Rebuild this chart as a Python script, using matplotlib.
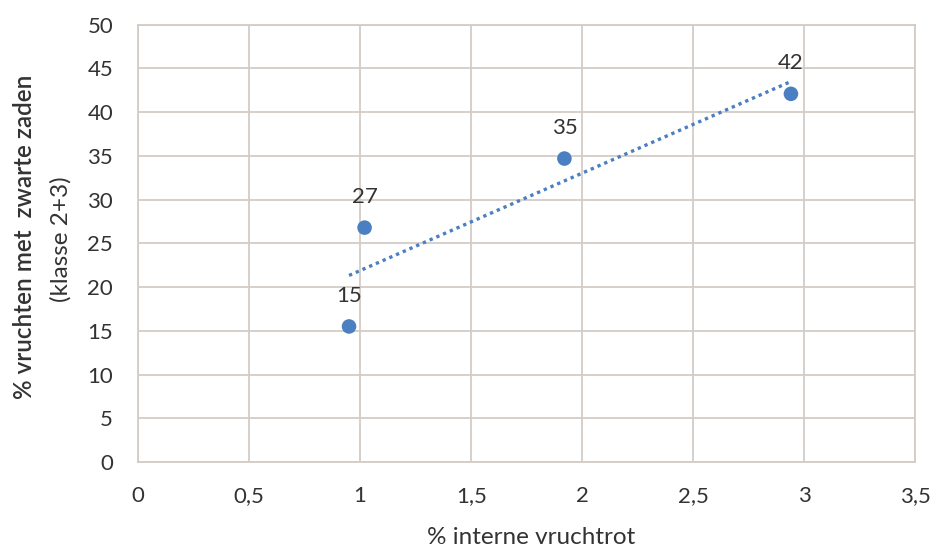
import matplotlib
matplotlib.use("Agg")
import matplotlib.pyplot as plt
import numpy as np

x_vals = [0.95, 1.02, 1.92, 2.94]
y_vals = [15.5, 26.8, 34.7, 42.1]
labels = ["15", "27", "35", "42"]
x_ticks = [0, 0.5, 1, 1.5, 2, 2.5, 3, 3.5]
x_tick_labels = ["0", "0,5", "1", "1,5", "2", "2,5", "3", "3,5"]
y_ticks = [0, 5, 10, 15, 20, 25, 30, 35, 40, 45, 50]

FONT = "Lato"
FS = 16
blue = "#4a7fc1"
grid_c = "#d3cbc6"
txt_c = "#333333"

fig = plt.figure(figsize=(9.33, 5.5), dpi=100)
ax = fig.add_axes([0.148, 0.160, 0.833, 0.795])

ax.set_xlim(0, 3.5)
ax.set_ylim(0, 50)
ax.set_xticks(x_ticks)
ax.set_xticklabels(x_tick_labels)
ax.set_yticks(y_ticks)
ax.grid(True, color=grid_c, linewidth=1.3)
ax.set_axisbelow(True)
for s in ax.spines.values():
    s.set_color(grid_c)
    s.set_linewidth(1.3)
ax.tick_params(length=0, labelsize=FS, labelcolor=txt_c)
ax.tick_params(axis="x", pad=17)
ax.tick_params(axis="y", pad=18)
for t in ax.get_xticklabels() + ax.get_yticklabels():
    t.set_fontfamily(FONT)

# trendline (linear fit of the data)
coef = np.polyfit(x_vals, y_vals, 1)
xs = np.array([min(x_vals), max(x_vals)])
ax.plot(xs, np.polyval(coef, xs), linestyle=(0, (1, 1.2)), color=blue, linewidth=2.4, zorder=2)

ax.scatter(x_vals, y_vals, s=110, color=blue, zorder=3, edgecolors="none")
for xv, yv, lb in zip(x_vals, y_vals, labels):
    ax.annotate(lb, (xv, yv), xytext=(0, 22), textcoords="offset points",
                ha="center", va="center", fontsize=FS, color=txt_c, family=FONT)

fig.text(0.569, 0.022, "% interne vruchtrot", ha="center", va="center",
         fontsize=17.5, color=txt_c, family=FONT)

fig.text(0.026, 0.569, "% vruchten met  zwarte zaden", rotation=90, ha="center", va="center",
         fontsize=17.5, color=txt_c, family=FONT, fontweight="semibold")
fig.text(0.065, 0.565, "(klasse 2+3)", rotation=90, ha="center", va="center",
         fontsize=17.5, color=txt_c, family=FONT)

fig.savefig("out.png", dpi=100)
